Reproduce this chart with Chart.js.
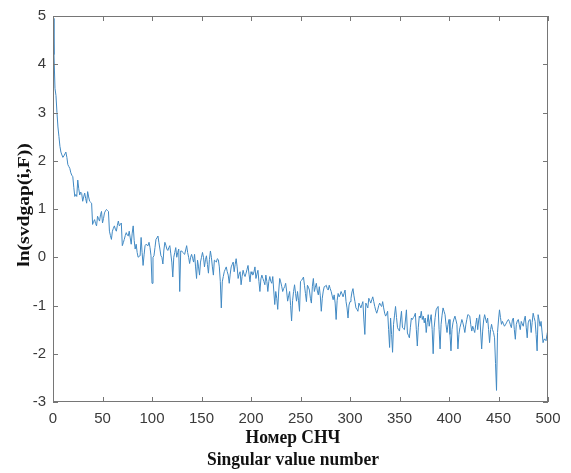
<!DOCTYPE html>
<html>
<head>
<meta charset="utf-8">
<script src="https://cdn.jsdelivr.net/npm/chart.js@4"></script>
<style>
    html, body { margin: 0; padding: 0; background: #fff; }
    #wrap { width: 571px; height: 473px; }
</style>
</head>
<body>
<div id="wrap"><canvas id="gapChart" width="571" height="473"></canvas></div>
<script>
// ln of the singular value gap, index 0..500
const lnGap = [
    4.95, 4.2, 3.5, 3.35, 3.0, 2.7, 2.5, 2.3, 2.18, 2.12,
    2.07, 2.1, 2.14, 2.18, 2.07, 1.92, 1.88, 1.84, 1.75, 1.7,
    1.67, 1.45, 1.26, 1.3, 1.26, 1.6, 1.42, 1.29, 1.35, 1.32,
    1.16, 1.25, 1.33, 1.22, 1.12, 1.36, 1.25, 1.16, 1.14, 1.12,
    0.68, 0.74, 0.78, 0.7, 0.65, 0.85, 0.8, 0.75, 0.88, 0.95,
    0.71, 0.8, 0.92, 0.96, 0.99, 0.97, 0.95, 0.54, 0.45, 0.37,
    0.54, 0.6, 0.65, 0.58, 0.54, 0.66, 0.75, 0.65, 0.68, 0.71,
    0.24, 0.3, 0.37, 0.45, 0.51, 0.46, 0.44, 0.54, 0.4, 0.27,
    0.5, 0.65, 0.35, 0.17, 0.27, 0.1, 0.0, 0.02, 0.03, 0.41,
    0.1, -0.17, 0.05, 0.24, 0.27, 0.25, 0.24, 0.31, 0.2, 0.03,
    -0.54, 0.0, 0.03, 0.2, 0.37, 0.4, 0.44, 0.3, 0.17, 0.03,
    0.0, -0.14, 0.15, 0.31, 0.25, 0.17, 0.14, 0.2, 0.24, 0.07,
    -0.1, -0.41, 0.0, 0.1, 0.2, 0.0, 0.1, 0.17, -0.71, 0.13,
    0.13, 0.1, 0.08, 0.06, 0.15, 0.24, 0.1, 0.0, -0.13, 0.0,
    0.06, -0.02, -0.1, 0.06, -0.2, -0.44, -0.06, -0.2, -0.37, -0.1,
    0.0, 0.1, 0.0, -0.2, -0.05, 0.03, -0.15, -0.33, -0.05, 0.13,
    0.0, -0.2, -0.37, -0.06, -0.08, -0.1, -0.03, -0.05, -0.2, -0.5,
    -1.05, -0.51, -0.4, -0.3, -0.25, -0.2, -0.3, -0.37, -0.54, -0.35,
    -0.2, -0.15, -0.1, -0.3, -0.15, -0.03, -0.2, -0.44, -0.35, -0.3,
    -0.57, -0.4, -0.27, -0.35, -0.4, -0.33, -0.25, -0.17, -0.35, -0.51,
    -0.3, -0.35, -0.37, -0.3, -0.2, -0.44, -0.35, -0.27, -0.5, -0.71,
    -0.45, -0.37, -0.44, -0.5, -0.57, -0.37, -0.5, -0.71, -0.5, -0.4,
    -0.5, -0.54, -0.4, -0.7, -0.98, -0.71, -0.85, -1.08, -0.7, -0.44,
    -0.51, -0.6, -0.71, -0.65, -0.61, -0.54, -0.7, -0.91, -0.8, -0.71,
    -1.0, -1.32, -0.9, -0.71, -0.57, -0.75, -0.91, -0.71, -0.9, -1.12,
    -0.5, -0.48, -0.45, -0.41, -0.58, -0.75, -0.92, -0.58, -0.62, -0.68,
    -0.85, -0.95, -0.6, -0.44, -0.71, -0.62, -0.54, -0.7, -0.78, -0.61,
    -0.8, -1.12, -0.85, -0.7, -0.61, -0.6, -0.58, -0.65, -0.68, -0.58,
    -0.65, -0.71, -0.8, -0.88, -0.78, -0.95, -1.29, -0.9, -0.75, -0.82,
    -0.78, -0.71, -0.76, -0.82, -0.75, -0.68, -0.92, -1.05, -1.26, -0.99,
    -0.92, -0.85, -0.72, -0.65, -0.8, -0.92, -1.05, -1.08, -1.12, -0.95,
    -1.0, -1.05, -0.98, -0.92, -1.3, -1.6, -0.95, -1.0, -1.05, -0.85,
    -0.9, -0.95, -0.88, -0.82, -0.92, -1.02, -1.1, -1.16, -1.09, -1.0,
    -0.95, -1.0, -1.02, -0.92, -1.05, -1.16, -1.22, -1.18, -1.12, -1.5,
    -1.87, -1.26, -1.6, -1.97, -1.39, -1.2, -1.02, -1.25, -1.46, -1.5,
    -1.53, -1.3, -1.12, -1.46, -1.48, -1.5, -1.3, -1.09, -1.57, -1.62,
    -1.67, -1.45, -1.26, -1.29, -1.25, -1.22, -1.16, -1.5, -1.84, -1.45,
    -1.22, -1.26, -1.12, -1.29, -1.22, -1.36, -1.26, -1.56, -1.35, -1.19,
    -1.43, -1.3, -1.19, -1.5, -2.0, -1.46, -1.25, -1.09, -1.05, -1.02,
    -1.5, -1.9, -1.39, -1.2, -1.05, -1.12, -1.19, -1.4, -1.56, -1.39,
    -1.29, -1.6, -1.94, -1.5, -1.36, -1.28, -1.22, -1.3, -1.39, -1.9,
    -1.6, -1.46, -1.38, -1.29, -1.36, -1.45, -1.56, -1.4, -1.29, -1.19,
    -1.2, -1.22, -1.4, -1.53, -1.43, -1.5, -1.56, -1.4, -1.26, -1.5,
    -1.3, -1.19, -1.55, -1.9, -1.53, -1.3, -1.19, -1.28, -1.36, -1.26,
    -1.5, -1.77, -1.5, -1.39, -1.5, -1.56, -1.67, -2.2, -2.76, -1.56,
    -1.3, -1.09, -1.25, -1.39, -1.33, -1.38, -1.43, -1.4, -1.36, -1.32,
    -1.29, -1.33, -1.4, -1.46, -1.3, -1.26, -1.5, -1.7, -1.39, -1.32,
    -1.29, -1.4, -1.5, -1.33, -1.38, -1.43, -1.3, -1.22, -1.45, -1.67,
    -1.36, -1.3, -1.29, -1.56, -1.35, -1.16, -1.25, -1.33, -1.6, -1.94,
    -1.19, -1.3, -1.43, -1.33, -1.55, -1.77, -1.7, -1.7, -1.73, -1.6,
    -1.5
];

const xTicks = [0, 50, 100, 150, 200, 250, 300, 350, 400, 450, 500];
const yTicks = [-3, -2, -1, 0, 1, 2, 3, 4, 5];
const xTitle = ["Номер СНЧ", "Singular value number"];
const yTitle = "ln(svdgap(i,F))";

const points = lnGap.map((v, i) => ({ x: i, y: v }));

// matlab style box with inward ticks on all four sides
const boxPlugin = {
    id: "box",
    afterDatasetsDraw(chart) {
        const { ctx, chartArea: a, scales } = chart;
        const tl = 5;
        ctx.save();
        ctx.strokeStyle = "#767676";
        ctx.lineWidth = 1;
        ctx.strokeRect(Math.round(a.left) + 0.5, Math.round(a.top) + 0.5,
            Math.round(a.width) - 1, Math.round(a.height) - 1);
        ctx.beginPath();
        scales.x.ticks.forEach((t) => {
            const px = Math.round(scales.x.getPixelForValue(t.value)) + 0.5;
            ctx.moveTo(px, a.bottom);
            ctx.lineTo(px, a.bottom - tl);
            ctx.moveTo(px, a.top);
            ctx.lineTo(px, a.top + tl);
        });
        scales.y.ticks.forEach((t) => {
            const py = Math.round(scales.y.getPixelForValue(t.value)) + 0.5;
            ctx.moveTo(a.left, py);
            ctx.lineTo(a.left + tl, py);
            ctx.moveTo(a.right, py);
            ctx.lineTo(a.right - tl, py);
        });
        ctx.stroke();
        ctx.restore();
    },
};

// axis titles, the source figure has them a little stretched vertically
const titlePlugin = {
    id: "titles",
    afterDraw(chart) {
        const { ctx } = chart;
        const stretch = 1.06;
        ctx.save();
        ctx.fillStyle = "#111";
        ctx.font = "bold 17.5px 'Liberation Serif', 'Times New Roman', serif";
        ctx.textAlign = "center";
        ctx.textBaseline = "middle";

        const lines = [[293, 438], [293, 460]];
        xTitle.forEach((txt, i) => {
            ctx.save();
            ctx.translate(lines[i][0], lines[i][1]);
            ctx.scale(1, stretch);
            ctx.fillText(txt, 0, 0);
            ctx.restore();
        });

        ctx.translate(24, 205);
        ctx.scale(1, 1.12);
        ctx.rotate(-Math.PI / 2);
        ctx.fillText(yTitle, 0, 0);
        ctx.restore();
    },
};

new Chart(document.getElementById("gapChart"), {
    type: "line",
    data: {
        datasets: [
            {
                data: points,
                borderColor: "#4189c3",
                borderWidth: 1,
                pointRadius: 0,
                fill: false,
                tension: 0,
            },
        ],
    },
    options: {
        responsive: false,
        animation: false,
        layout: { padding: { top: 10, right: 23, left: 0, bottom: 0 } },
        plugins: {
            legend: { display: false },
            tooltip: { enabled: false },
        },
        scales: {
            x: {
                type: "linear",
                min: 0,
                max: 500,
                afterBuildTicks: (s) => { s.ticks = xTicks.map((v) => ({ value: v })); },
                afterFit: (s) => { s.height = 71; },
                grid: { display: false, drawTicks: false },
                border: { display: false },
                ticks: {
                    color: "#3a3a3a",
                    padding: 8,
                    maxRotation: 0,
                    font: { family: "Liberation Sans, Arial, sans-serif", size: 15 },
                },
            },
            y: {
                min: -3,
                max: 5,
                afterBuildTicks: (s) => { s.ticks = yTicks.map((v) => ({ value: v })); },
                afterFit: (s) => { s.width = 53; },
                grid: { display: false, drawTicks: false },
                border: { display: false },
                ticks: {
                    color: "#3a3a3a",
                    padding: 7,
                    font: { family: "Liberation Sans, Arial, sans-serif", size: 15 },
                },
            },
        },
    },
    plugins: [boxPlugin, titlePlugin],
});
</script>
</body>
</html>
